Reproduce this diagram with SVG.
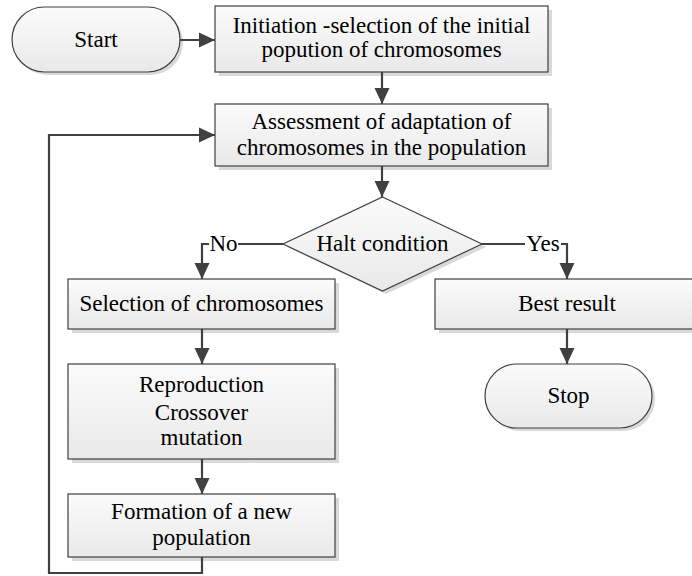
<svg xmlns="http://www.w3.org/2000/svg" width="692" height="576" viewBox="0 0 692 576">
<defs>
<linearGradient id="g" x1="0" y1="0" x2="0" y2="1">
<stop offset="0" stop-color="#fbfbfb"/>
<stop offset="1" stop-color="#e9e9e9"/>
</linearGradient>
<marker id="ah" markerWidth="16" markerHeight="16" viewBox="0 0 16 16" refX="16" refY="8" orient="auto" markerUnits="userSpaceOnUse">
<path d="M0,0.5 L16,8 L0,15.5 Z" fill="#404040"/>
</marker>
</defs>
<style>
.shape{fill:url(#g);stroke:#404040;stroke-width:1.2}
.shadow{fill:#d9d9d9;stroke:none}
text{font-family:'Liberation Serif','Times New Roman',serif;font-size:23px;fill:#000;text-anchor:middle}
.conn{fill:none;stroke:#404040;stroke-width:2.2}
.lbl{fill:#fff;stroke:none}
</style>
<rect width="692" height="576" fill="#fff"/>
<g id="start">
<rect class="shadow" x="15" y="10" width="168" height="65" rx="32.5"/>
<rect class="shape" x="12" y="7" width="168" height="65" rx="32.5"/>
<text x="96" y="47">Start</text>
</g>
<g id="init">
<rect class="shadow" x="219" y="10" width="333" height="66"/>
<rect class="shape" x="215" y="6" width="333" height="66"/>
<text x="381.5" y="33">Initiation -selection of the initial</text>
<text x="381.5" y="57">popution of chromosomes</text>
</g>
<g id="assess">
<rect class="shadow" x="219" y="108" width="333" height="62"/>
<rect class="shape" x="215" y="104" width="333" height="62"/>
<text x="381.5" y="129">Assessment of adaptation of</text>
<text x="381.5" y="155">chromosomes in the population</text>
</g>
<g id="halt">
<polygon class="shadow" points="386,200 486,247 386,294 287,247"/>
<polygon class="shape" points="382.5,197 482,244 382.5,291 283,244"/>
<text x="382.5" y="251">Halt condition</text>
</g>
<g id="selection">
<rect class="shadow" x="72" y="283" width="267" height="50"/>
<rect class="shape" x="68" y="279" width="267" height="50"/>
<text x="201.5" y="311">Selection of chromosomes</text>
</g>
<g id="best">
<rect class="shadow" x="439" y="283" width="265" height="50"/>
<rect class="shape" x="435" y="279" width="265" height="50"/>
<text x="567" y="311">Best result</text>
</g>
<g id="stop">
<rect class="shadow" x="488" y="367" width="167" height="64" rx="32"/>
<rect class="shape" x="485" y="364" width="167" height="64" rx="32"/>
<text x="568.5" y="403">Stop</text>
</g>
<g id="repro">
<rect class="shadow" x="72" y="368" width="267" height="95"/>
<rect class="shape" x="68" y="364" width="267" height="95"/>
<text x="201.5" y="392">Reproduction</text>
<text x="201.5" y="420">Crossover</text>
<text x="201.5" y="445">mutation</text>
</g>
<g id="formation">
<rect class="shadow" x="72" y="498" width="267" height="63"/>
<rect class="shape" x="68" y="494" width="267" height="63"/>
<text x="201.5" y="519">Formation of a new</text>
<text x="201.5" y="545">population</text>
</g>
<g id="connectors">
<path class="conn" d="M180,40 H215" marker-end="url(#ah)"/>
<path class="conn" d="M382,72 V104" marker-end="url(#ah)"/>
<path class="conn" d="M382,166 V197" marker-end="url(#ah)"/>
<path class="conn" d="M283,244 H202 V279" marker-end="url(#ah)"/>
<rect class="lbl" x="209" y="232" width="29" height="24"/>
<text x="223.5" y="251">No</text>
<path class="conn" d="M482,244 H567 V279" marker-end="url(#ah)"/>
<rect class="lbl" x="525" y="232" width="36" height="24"/>
<text x="543" y="251">Yes</text>
<path class="conn" d="M567,329 V364" marker-end="url(#ah)"/>
<path class="conn" d="M202,329 V364" marker-end="url(#ah)"/>
<path class="conn" d="M202,459 V494" marker-end="url(#ah)"/>
<path class="conn" d="M202,557 V573 H49 V135 H215" marker-end="url(#ah)"/>
</g>
</svg>
